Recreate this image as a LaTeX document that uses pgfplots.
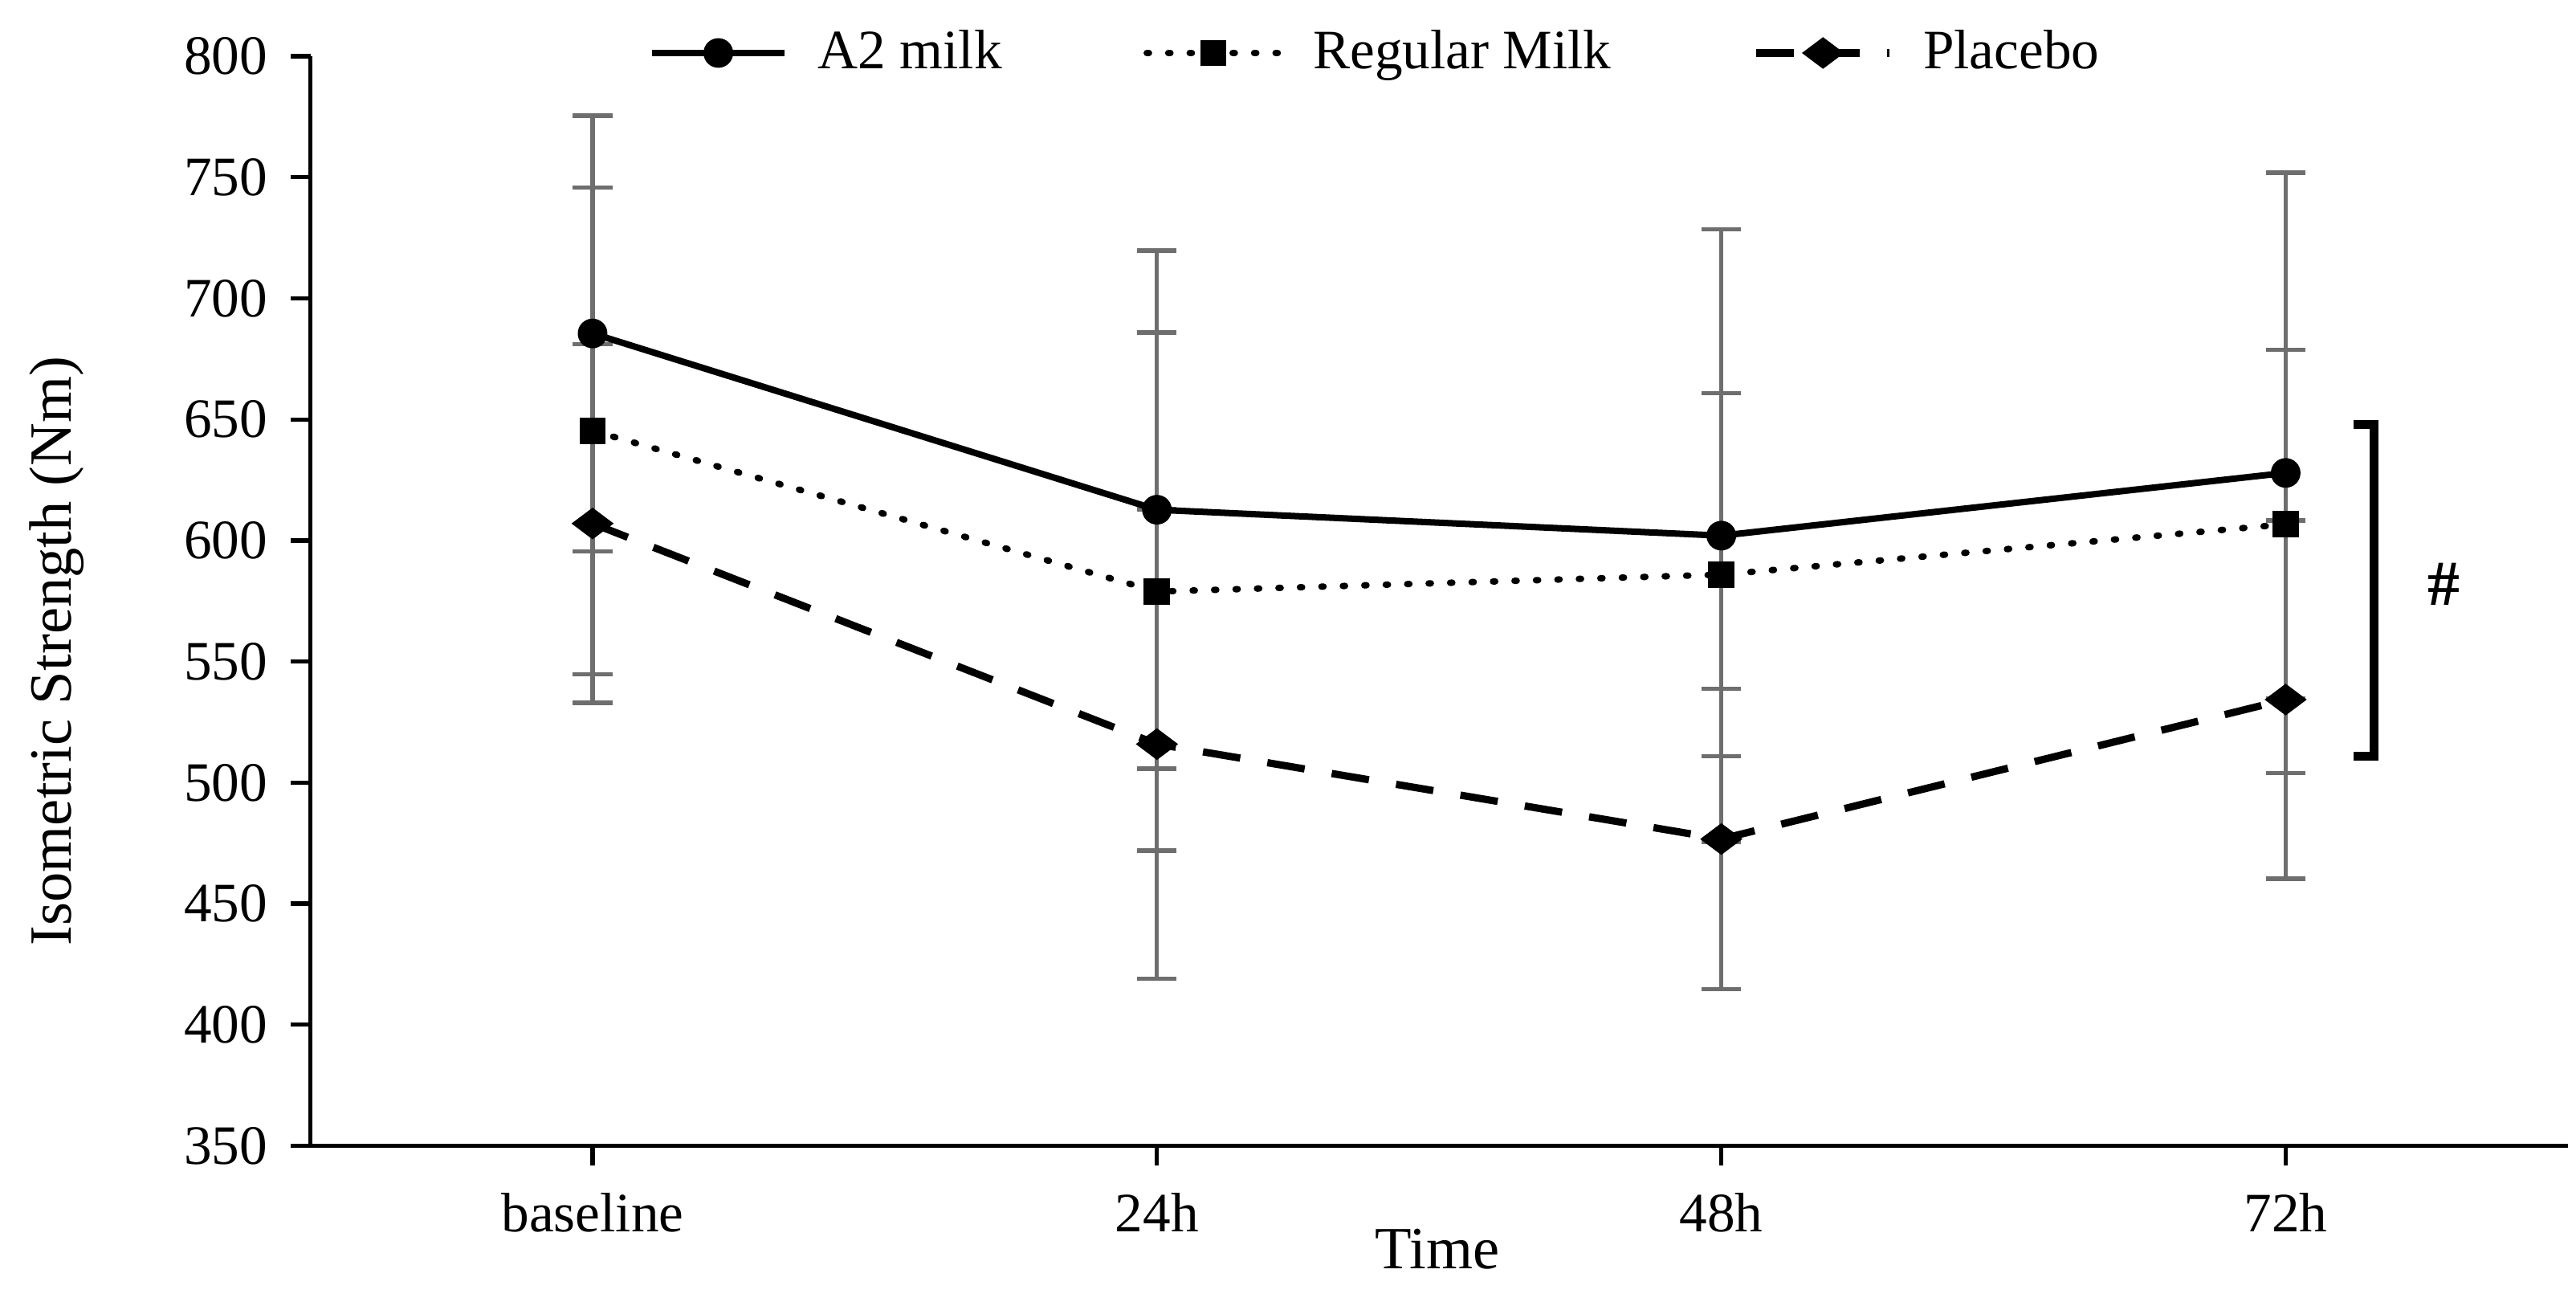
\documentclass[border=0pt]{standalone}
\usepackage{pgfplots}
\pgfplotsset{compat=1.18}
\usepackage{pgfplotstable}
\usepackage{fontspec}
\setmainfont{Liberation Serif}
\definecolor{errgray}{RGB}{110,110,110}

\pgfplotstableread{
x y e
0 685.5 90
1 612.7 107
2 602.0 126.6
3 627.9 124
}\aii
\pgfplotstableread{
x y e
0 645.3 100.5
1 578.9 107
2 585.9 75
3 606.7 72
}\regular
\pgfplotstableread{
x y e
0 607.0 74
1 515.9 97
2 476.7 62
3 534.3 74
}\placebo

\begin{document}
\begin{tikzpicture}
\begin{axis}[name=ax, scale only axis, width=525.8bp, height=253.7bp,
  xmin=-0.5, xmax=3.5, ymin=350, ymax=800,
  axis x line*=bottom, axis y line*=left,
  axis line style={line width=1.1bp, black},
  xtick={0,1,2,3}, xticklabels={baseline,24h,48h,72h},
  ytick={350,400,...,800},
  tick align=outside, major tick length=4.5bp,
  tick style={line width=1bp, black},
  minor tick num=0,
  tick label style={font=\fontsize{13}{15}\selectfont},
  /pgf/number format/assume math mode=true,
  yticklabel style={xshift=-2bp},
  xticklabel style={yshift=-3bp},
  xlabel={Time}, ylabel={Isometric Strength (Nm)},
  label style={font=\fontsize{14}{17}\selectfont},
  xlabel style={at={(rel axis cs:0.4993,-0.095)}, anchor=center},
  ylabel style={at={(rel axis cs:-0.1122,0.454)}, anchor=center},
  legend columns=3,
  legend style={at={(rel axis cs:0.473,1.003)}, anchor=center, draw=none, fill=none,
    font=\fontsize{13}{15}\selectfont, inner sep=0pt,
    /tikz/every even column/.append style={column sep=31bp},
    /tikz/every odd column/.append style={column sep=5bp}},
  legend image code/.code={\draw[mark repeat=2,mark phase=2,#1] plot coordinates {(0bp,0bp) (15.5bp,0bp) (31bp,0bp)};},
  clip=false,
]
% error bars (drawn first, behind the lines)
\addplot[forget plot, only marks, mark=none,
  error bars/.cd, y dir=both, y explicit,
  error bar style={line width=1bp, color=errgray},
  error mark options={rotate=90, line width=1bp, color=errgray, mark size=4.6bp}]
  table[x=x, y=y, y error=e] {\aii};
\addplot[forget plot, only marks, mark=none,
  error bars/.cd, y dir=both, y explicit,
  error bar style={line width=1bp, color=errgray},
  error mark options={rotate=90, line width=1bp, color=errgray, mark size=4.6bp}]
  table[x=x, y=y, y error=e] {\regular};
\addplot[forget plot, only marks, mark=none,
  error bars/.cd, y dir=both, y explicit,
  error bar style={line width=1bp, color=errgray},
  error mark options={rotate=90, line width=1bp, color=errgray, mark size=4.6bp}]
  table[x=x, y=y, y error=e] {\placebo};
% lines
\addplot[black, line width=1.5bp, mark=*, mark size=2.7bp, mark options={solid}]
  table[x=x, y=y] {\aii};
\addlegendentry{A2 milk}
\addplot[black, line width=1.5bp, line cap=round, dash pattern=on 0.5bp off 4.5bp,
  mark=square*, mark size=2.3bp, mark options={solid, line cap=butt}]
  table[x=x, y=y] {\regular};
\addlegendentry{Regular Milk}
\addplot[black, line width=1.7bp, dash pattern=on 8.8bp off 6.4bp,
  mark=diamond*, mark size=3.5bp, mark options={solid, rotate=90}]
  table[x=x, y=y] {\placebo};
\addlegendentry{Placebo}
% significance bracket
\draw[line width=2bp, black] (axis cs:3.12,648) -- (axis cs:3.157,648) -- (axis cs:3.157,511) -- (axis cs:3.12,511);
\node[font=\fontsize{15}{17}\selectfont\bfseries] at (axis cs:3.28,582) {\#};
\end{axis}
\pgfresetboundingbox
\path ([xshift=-72.3bp,yshift=-35.3bp]ax.south west) rectangle ([xshift=1.9bp,yshift=13.1bp]ax.north east);
\end{tikzpicture}
\end{document}
